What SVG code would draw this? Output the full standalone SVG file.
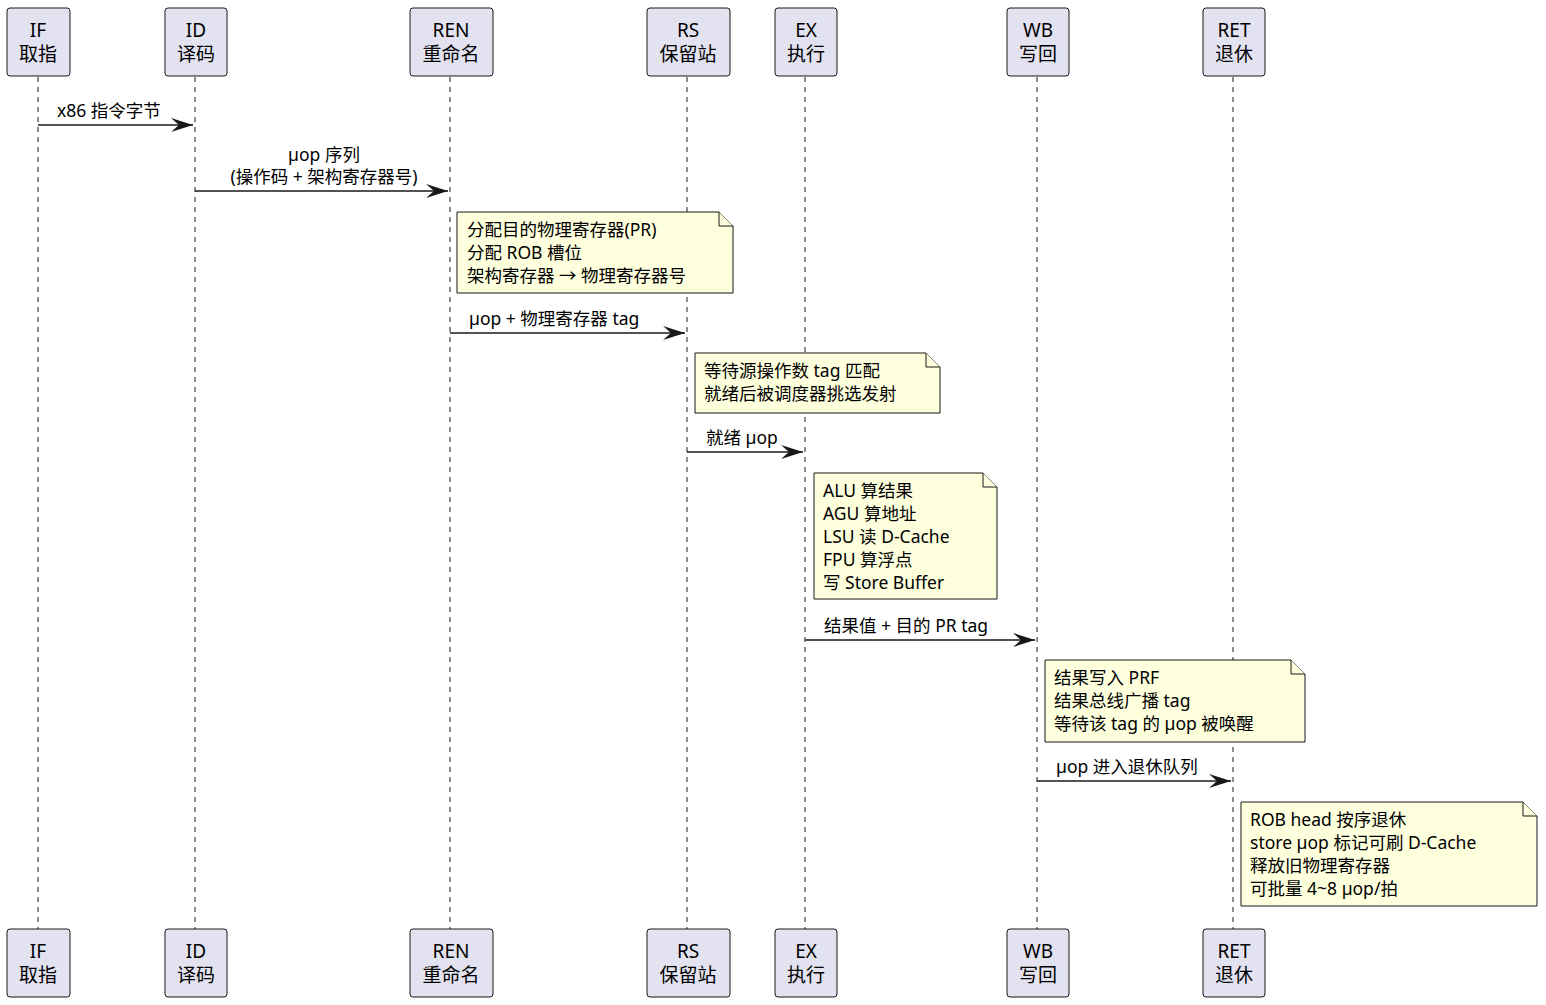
<svg xmlns="http://www.w3.org/2000/svg" width="1546" height="1005" viewBox="0 0 1546 1005">
<style>
text{font-family:"Noto Sans","Noto Sans CJK SC",sans-serif;fill:#000}
.p{fill:#E2E2F0;stroke:#181818;stroke-width:1}
.pt{font-size:19px;text-anchor:middle}
.ll{stroke:#181818;stroke-width:1;stroke-dasharray:5 5}
.m{stroke:#181818;stroke-width:1.5;fill:none}
.mt{font-size:17.5px}
.n{fill:#FEFFDD;stroke:#181818;stroke-width:1}
.nt{font-size:17.5px}
</style>
<defs>
<marker id="a" markerWidth="24" markerHeight="14" refX="22" refY="7" orient="auto" markerUnits="userSpaceOnUse">
<path d="M0,0 L22,7 L0,14 L8,7 Z" fill="#181818"/>
</marker>
</defs>
<g id="lifelines">
<line class="ll" x1="38" y1="77" x2="38" y2="929"/>
<line class="ll" x1="195" y1="77" x2="195" y2="929"/>
<line class="ll" x1="450" y1="77" x2="450" y2="929"/>
<line class="ll" x1="687" y1="77" x2="687" y2="929"/>
<line class="ll" x1="805" y1="77" x2="805" y2="929"/>
<line class="ll" x1="1037" y1="77" x2="1037" y2="929"/>
<line class="ll" x1="1233" y1="77" x2="1233" y2="929"/>
</g>
<g id="IF"><rect class="p" x="7" y="8" width="63" height="68" rx="3"/><text class="pt" x="38" y="37">IF</text><text class="pt" x="38" y="61">取指</text>
<rect class="p" x="7" y="929" width="63" height="68" rx="3"/><text class="pt" x="38" y="958">IF</text><text class="pt" x="38" y="982">取指</text></g>
<g id="ID"><rect class="p" x="165" y="8" width="62" height="68" rx="3"/><text class="pt" x="196" y="37">ID</text><text class="pt" x="196" y="61">译码</text>
<rect class="p" x="165" y="929" width="62" height="68" rx="3"/><text class="pt" x="196" y="958">ID</text><text class="pt" x="196" y="982">译码</text></g>
<g id="REN"><rect class="p" x="410" y="8" width="83" height="68" rx="3"/><text class="pt" x="451" y="37">REN</text><text class="pt" x="451" y="61">重命名</text>
<rect class="p" x="410" y="929" width="83" height="68" rx="3"/><text class="pt" x="451" y="958">REN</text><text class="pt" x="451" y="982">重命名</text></g>
<g id="RS"><rect class="p" x="647" y="8" width="83" height="68" rx="3"/><text class="pt" x="688" y="37">RS</text><text class="pt" x="688" y="61">保留站</text>
<rect class="p" x="647" y="929" width="83" height="68" rx="3"/><text class="pt" x="688" y="958">RS</text><text class="pt" x="688" y="982">保留站</text></g>
<g id="EX"><rect class="p" x="775" y="8" width="62" height="68" rx="3"/><text class="pt" x="806" y="37">EX</text><text class="pt" x="806" y="61">执行</text>
<rect class="p" x="775" y="929" width="62" height="68" rx="3"/><text class="pt" x="806" y="958">EX</text><text class="pt" x="806" y="982">执行</text></g>
<g id="WB"><rect class="p" x="1007" y="8" width="62" height="68" rx="3"/><text class="pt" x="1038" y="37">WB</text><text class="pt" x="1038" y="61">写回</text>
<rect class="p" x="1007" y="929" width="62" height="68" rx="3"/><text class="pt" x="1038" y="958">WB</text><text class="pt" x="1038" y="982">写回</text></g>
<g id="RET"><rect class="p" x="1203" y="8" width="62" height="68" rx="3"/><text class="pt" x="1234" y="37">RET</text><text class="pt" x="1234" y="61">退休</text>
<rect class="p" x="1203" y="929" width="62" height="68" rx="3"/><text class="pt" x="1234" y="958">RET</text><text class="pt" x="1234" y="982">退休</text></g>
<g id="connectors">
<line class="m" x1="38" y1="125" x2="193" y2="125" marker-end="url(#a)"/>
<text class="mt" x="57" y="117">x86 指令字节</text>
<line class="m" x1="195" y1="191" x2="448" y2="191" marker-end="url(#a)"/>
<text class="mt" x="324" y="161" text-anchor="middle">µop 序列</text>
<text class="mt" x="324" y="183" text-anchor="middle">(操作码 + 架构寄存器号)</text>
<line class="m" x1="450" y1="333" x2="685" y2="333" marker-end="url(#a)"/>
<text class="mt" x="469" y="325">µop + 物理寄存器 tag</text>
<line class="m" x1="687" y1="452" x2="803" y2="452" marker-end="url(#a)"/>
<text class="mt" x="706" y="444">就绪 µop</text>
<line class="m" x1="805" y1="640" x2="1035" y2="640" marker-end="url(#a)"/>
<text class="mt" x="824" y="632">结果值 + 目的 PR tag</text>
<line class="m" x1="1037" y1="781" x2="1231" y2="781" marker-end="url(#a)"/>
<text class="mt" x="1056" y="773">µop 进入退休队列</text>
</g>
<g id="note1"><path class="n" d="M457,212 H719 L733,226 V293 H457 Z"/><path class="n" d="M719,212 V226 H733"/>
<text class="nt" x="467" y="236">分配目的物理寄存器(PR)</text><text class="nt" x="467" y="259">分配 ROB 槽位</text><text class="nt" x="467" y="282">架构寄存器 → 物理寄存器号</text></g>
<g id="note2"><path class="n" d="M695,353 H926 L940,367 V413 H695 Z"/><path class="n" d="M926,353 V367 H940"/>
<text class="nt" x="704" y="377">等待源操作数 tag 匹配</text><text class="nt" x="704" y="400">就绪后被调度器挑选发射</text></g>
<g id="note3"><path class="n" d="M814,473 H983 L997,487 V599 H814 Z"/><path class="n" d="M983,473 V487 H997"/>
<text class="nt" x="823" y="497">ALU 算结果</text><text class="nt" x="823" y="520">AGU 算地址</text><text class="nt" x="823" y="543">LSU 读 D-Cache</text><text class="nt" x="823" y="566">FPU 算浮点</text><text class="nt" x="823" y="589">写 Store Buffer</text></g>
<g id="note4"><path class="n" d="M1045,660 H1291 L1305,674 V742 H1045 Z"/><path class="n" d="M1291,660 V674 H1305"/>
<text class="nt" x="1054" y="684">结果写入 PRF</text><text class="nt" x="1054" y="707">结果总线广播 tag</text><text class="nt" x="1054" y="730">等待该 tag 的 µop 被唤醒</text></g>
<g id="note5"><path class="n" d="M1241,802 H1523 L1537,816 V906 H1241 Z"/><path class="n" d="M1523,802 V816 H1537"/>
<text class="nt" x="1250" y="826">ROB head 按序退休</text><text class="nt" x="1250" y="849">store µop 标记可刷 D-Cache</text><text class="nt" x="1250" y="872">释放旧物理寄存器</text><text class="nt" x="1250" y="895">可批量 4~8 µop/拍</text></g>
</svg>
